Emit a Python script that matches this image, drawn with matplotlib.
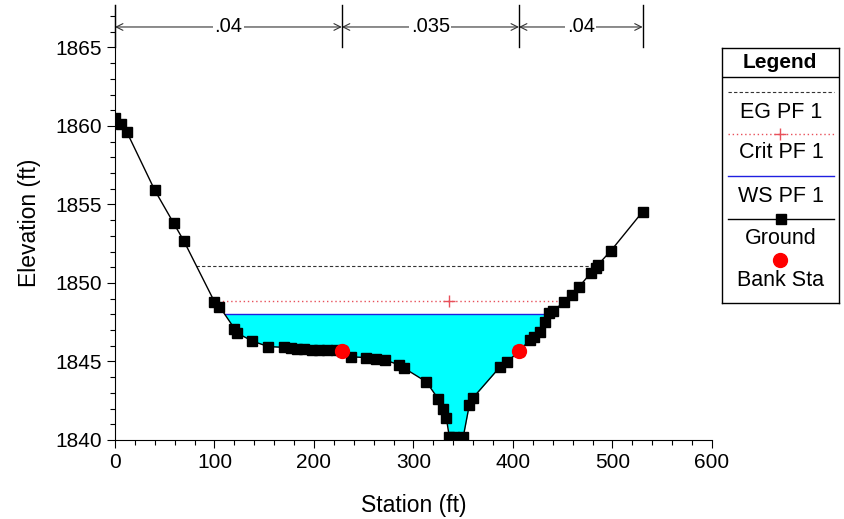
import matplotlib.pyplot as plt
import numpy as np
from matplotlib.ticker import MultipleLocator

plt.rcParams['font.family'] = ['Liberation Sans', 'DejaVu Sans']

# Ground profile (station ft, elevation ft)
ground_sta = [0, 6, 12, 40, 59, 69, 100, 105, 120, 123, 138, 154, 170, 177, 183,
              190, 198, 205, 213, 222, 228, 237, 252, 262, 271, 285, 290, 313,
              325, 330, 333, 336, 341, 350, 356, 360, 387, 394, 406, 417, 421,
              427, 432, 436, 440.5, 451.5, 459.5, 466.4, 478.4, 483.4, 485.4,
              498.4, 530.3]
ground_elev = [1860.5, 1860.1, 1859.6, 1855.9, 1853.8, 1852.7, 1848.8, 1848.5,
               1847.1, 1846.8, 1846.3, 1845.95, 1845.9, 1845.85, 1845.8, 1845.8,
               1845.75, 1845.7, 1845.7, 1845.7, 1845.65, 1845.3, 1845.25, 1845.15,
               1845.1, 1844.8, 1844.6, 1843.7, 1842.6, 1842.0, 1841.4, 1840.2,
               1840.2, 1840.2, 1842.2, 1842.7, 1844.66, 1844.97, 1845.65, 1846.38,
               1846.57, 1846.89, 1847.53, 1848.1, 1848.23, 1848.8, 1849.25,
               1849.76, 1850.65, 1850.97, 1851.16, 1852.05, 1854.54]

bank_sta = [228, 406]
bank_elev = [1845.65, 1845.65]

eg_elev = 1851.1
crit_elev = 1848.87
crit_sta = 336
ws_elev = 1848.0

n_breaks = [0, 228, 406, 530.3]
n_values = ['.04', '.035', '.04']

sta = np.array(ground_sta)
elev = np.array(ground_elev)

crit_color = '#e8505a'


def crossings(level):
    # первая и последняя точки пересечения уровня с рельефом
    idx = np.where(np.diff(np.sign(elev - level)) != 0)[0]
    i, j = idx[0], idx[-1]
    xl = np.interp(level, [elev[i + 1], elev[i]], [sta[i + 1], sta[i]])
    xr = np.interp(level, [elev[j], elev[j + 1]], [sta[j], sta[j + 1]])
    return xl, xr


fig = plt.figure(figsize=(8.45, 5.19), dpi=100)
ax = fig.add_axes([115 / 845, 79 / 519, 597 / 845, 435 / 519])

# water area
xl, xr = crossings(ws_elev)
xs = np.linspace(xl, xr, 400)
gs = np.interp(xs, sta, elev)
ax.fill_between(xs, gs, ws_elev, where=gs <= ws_elev, color='#00ffff',
                interpolate=True, lw=0, zorder=1)

ax.plot([xl, xr], [ws_elev, ws_elev], color='#2020e0', lw=1, zorder=2)

cl, cr = crossings(crit_elev)
ax.plot([cl, cr], [crit_elev, crit_elev], color=crit_color, lw=1,
        linestyle=(0, (1, 2)), zorder=2)
ax.plot([crit_sta], [crit_elev], marker='+', color=crit_color, ms=8, mew=1, zorder=2)

el, er = crossings(eg_elev)
ax.plot([el, er], [eg_elev, eg_elev], color='#333333', lw=0.8,
        linestyle=(0, (3, 2)), zorder=2)

ax.plot(ground_sta, ground_elev, color='black', lw=1, marker='s', ms=6.5,
        zorder=3)
ax.plot(bank_sta, bank_elev, 'o', color='#ff0000', ms=10, zorder=4)

# n-values
y_arr = 1866.3
for b in n_breaks:
    ax.plot([b, b], [1865.0, 1867.7], color='black', lw=1, clip_on=False, zorder=5)
for k in range(len(n_values)):
    a, b = n_breaks[k], n_breaks[k + 1]
    ax.annotate('', xy=(a, y_arr), xytext=(b, y_arr),
                arrowprops=dict(arrowstyle='<->', lw=0.8, color='#333333',
                                shrinkA=0, shrinkB=0, mutation_scale=12),
                annotation_clip=False)
    ax.text((a + b) / 2, y_arr, n_values[k], ha='center', va='center',
            fontsize=14.5, bbox=dict(facecolor='white', edgecolor='none', pad=1),
            zorder=6)

ax.set_xlim(0, 600)
ax.set_ylim(1840, 1867.7)
ax.set_yticks([1840, 1845, 1850, 1855, 1860, 1865])
ax.xaxis.set_major_locator(MultipleLocator(100))
ax.xaxis.set_minor_locator(MultipleLocator(20))
ax.yaxis.set_minor_locator(MultipleLocator(1))
ax.tick_params(which='major', length=6, width=0.8, labelsize=15)
ax.tick_params(which='minor', length=3.5, width=0.8)
ax.spines['top'].set_visible(False)
ax.spines['right'].set_visible(False)
ax.set_xlabel('Station (ft)', fontsize=16.5, labelpad=16)
ax.set_ylabel('Elevation (ft)', fontsize=16.5, labelpad=10)

# легенда
lg = fig.add_axes([722 / 845, 216 / 519, 117 / 845, 255 / 519])
lg.set_xlim(722, 839)
lg.set_ylim(303, 48)
lg.set_xticks([])
lg.set_yticks([])
for s in lg.spines.values():
    s.set_linewidth(1)
lg.text(780, 62, 'Legend', ha='center', va='center', fontsize=15, fontweight='bold')
lg.plot([722, 839], [77, 77], color='black', lw=1)
lg.plot([728, 834], [92, 92], color='#333333', lw=0.8, linestyle=(0, (3, 2)))
lg.text(781, 112, 'EG PF 1', ha='center', va='center', fontsize=15.5)
lg.plot([728, 834], [134, 134], color=crit_color, lw=1, linestyle=(0, (1, 2)))
lg.plot([780], [134], marker='+', color=crit_color, ms=8)
lg.text(781, 153, 'Crit PF 1', ha='center', va='center', fontsize=15.5)
lg.plot([728, 834], [176, 176], color='#2020e0', lw=1)
lg.text(781, 196, 'WS PF 1', ha='center', va='center', fontsize=15.5)
lg.plot([728, 834], [219, 219], color='black', lw=1)
lg.plot([781], [219], 's', color='black', ms=6.5)
lg.text(781, 238, 'Ground', ha='center', va='center', fontsize=15.5)
lg.plot([780], [260], 'o', color='#ff0000', ms=10)
lg.text(781, 280, 'Bank Sta', ha='center', va='center', fontsize=15.5)

plt.savefig('out.png', dpi=100)
